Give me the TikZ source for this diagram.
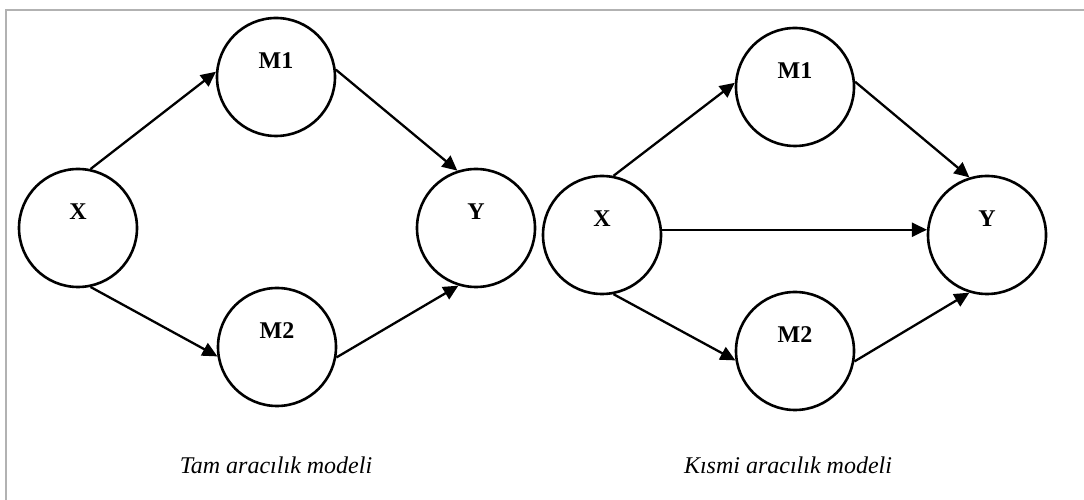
\documentclass[tikz,border=0pt]{standalone}
\usepackage{fontspec}
\setmainfont{Liberation Serif}
\usetikzlibrary{arrows.meta}
\begin{document}
\begin{tikzpicture}[x=1pt,y=1pt,
  var/.style={circle,draw,line width=2.6pt,minimum size=118pt,inner sep=0pt,
    label={[yshift=16pt,font=\fontsize{24}{28}\selectfont\bfseries]center:#1}},
  path/.style={line width=2.3pt,-{Triangle[length=15pt,width=14pt]}}]
\useasboundingbox(0,0)rectangle(1084,500);
\draw[gray!60,line width=2pt](6,0)--(6,490)--(1084,490);
\node[var=X](xa)at(78,272){};
\node[var=M1](ma)at(276,423){};
\node[var=M2](mb)at(277,153){};
\node[var=Y](ya)at(476,272){};
\draw[path](xa.78)--(ma.175);
\draw[path](xa.-78)--(mb.-171);
\draw[path](ma.7)--(ya.108);
\draw[path](mb.-10)--(ya.-107);
\node[font=\fontsize{24}{28}\selectfont\itshape](ta)at(276,35){Tam aracılık modeli};
\node[var=X](xb)at(602,265){};
\node[var=M1](mc)at(795,413){};
\node[var=M2](md)at(795,149){};
\node[var=Y](yb)at(987,265){};
\draw[path](xb.79)--(mc.176);
\draw[path](xb.5)--(yb.175);
\draw[path](xb.-79)--(md.-171);
\draw[path](mc.5)--(yb.107);
\draw[path](md.-10)--(yb.-107);
\node[font=\fontsize{24}{28}\selectfont\itshape](tb)at(788,35){Kısmi aracılık modeli};
\end{tikzpicture}
\end{document}
